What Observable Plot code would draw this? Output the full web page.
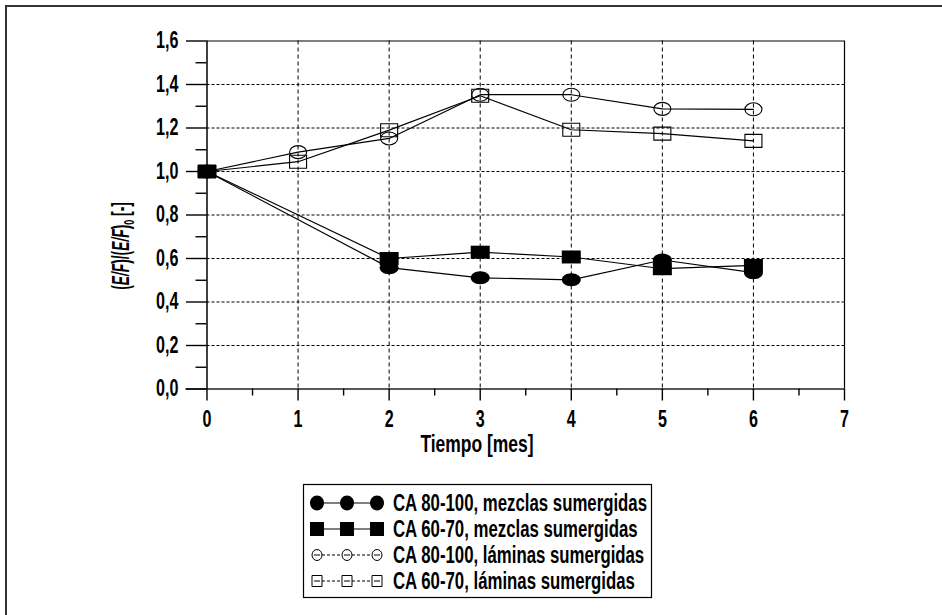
<!DOCTYPE html>
<html>
<head>
<meta charset="utf-8">
<script src="https://cdn.jsdelivr.net/npm/d3@7"></script>
<script src="https://cdn.jsdelivr.net/npm/@observablehq/plot@0.6"></script>
<style>
  html, body { margin: 0; padding: 0; background: #fff; }
  #wrap { position: relative; width: 942px; height: 615px; overflow: hidden; }
  #wrap svg { position: absolute; left: 0; top: 0; }
</style>
</head>
<body>
<div id="wrap"></div>
<script>
// ---- data ----
const xMezclas = [0, 2, 3, 4, 5, 6];
const mezclas80 = [1.0, 0.558, 0.511, 0.502, 0.593, 0.535];
const mezclas60 = [1.0, 0.600, 0.629, 0.607, 0.553, 0.568];
const xLaminas = [0, 1, 2, 3, 4, 5, 6];
const laminas80 = [1.0, 1.089, 1.152, 1.353, 1.353, 1.288, 1.286];
const laminas60 = [1.0, 1.045, 1.190, 1.348, 1.192, 1.174, 1.141];
const seriesNames = [
  "CA 80-100, mezclas sumergidas",
  "CA 60-70, mezclas sumergidas",
  "CA 80-100, láminas sumergidas",
  "CA 60-70, láminas sumergidas"
];
const xTicks = [0, 1, 2, 3, 4, 5, 6, 7];
const xMinor = [0.5, 1.5, 2.5, 3.5, 4.5, 5.5, 6.5];
const yTicks = [0, 0.2, 0.4, 0.6, 0.8, 1.0, 1.2, 1.4, 1.6];
const yMinor = [0.1, 0.3, 0.5, 0.7, 0.9, 1.1, 1.3, 1.5];
const xGrid = [1, 2, 3, 4, 5, 6];
const yGrid = [0.2, 0.4, 0.6, 0.8, 1.0, 1.2, 1.4];
const xLabel = "Tiempo [mes]";

const FONT = '"Liberation Sans", Arial, sans-serif';
const FS = 23;        // font size
const FW = "bold";
const SX = 0.7;       // horizontal condensing factor

// ---- marker shapes (flattened, as in the original) ----
function ellipseSym(rx, ry) {
  return { draw(ctx) {
    const k = 0.5523;
    ctx.moveTo(rx, 0);
    ctx.bezierCurveTo(rx, ry * k, rx * k, ry, 0, ry);
    ctx.bezierCurveTo(-rx * k, ry, -rx, ry * k, -rx, 0);
    ctx.bezierCurveTo(-rx, -ry * k, -rx * k, -ry, 0, -ry);
    ctx.bezierCurveTo(rx * k, -ry, rx, -ry * k, rx, 0);
    ctx.closePath();
  }};
}
function rectSym(hw, hh) {
  return { draw(ctx) {
    ctx.moveTo(-hw, -hh); ctx.lineTo(hw, -hh); ctx.lineTo(hw, hh); ctx.lineTo(-hw, hh); ctx.closePath();
  }};
}

const tbl = (xs, ys) => xs.map((x, i) => ({x, y: ys[i]}));
const dM80 = tbl(xMezclas, mezclas80);
const dM60 = tbl(xMezclas, mezclas60);
const dL80 = tbl(xLaminas, laminas80);
const dL60 = tbl(xLaminas, laminas60);

const fmt = d => d.toFixed(1).replace(".", ",");

const chart = Plot.plot({
  width: 942,
  height: 615,
  marginLeft: 206.5,
  marginRight: 98,
  marginTop: 40.5,
  marginBottom: 226.5,
  style: { fontFamily: FONT, fontSize: FS + "px", background: "transparent", color: "#000" },
  x: { domain: [0, 7] },
  y: { domain: [0, 1.6] },
  marks: [
    // grid
    Plot.ruleX(xGrid, { stroke: "#000", strokeWidth: 1, strokeDasharray: "4,3" }),
    Plot.ruleY(yGrid, { stroke: "#000", strokeWidth: 1, strokeDasharray: "3,2" }),
    // frame
    Plot.ruleY([1.6], { stroke: "#000", strokeWidth: 1.2 }),
    Plot.ruleX([7], { stroke: "#000", strokeWidth: 1.2 }),
    Plot.ruleY([0], { stroke: "#222", strokeWidth: 1.5, insetLeft: -21 }),
    Plot.ruleX([0], { stroke: "#000", strokeWidth: 1.5 }),
    // axes
    Plot.axisY({ ticks: yTicks, tickSize: 20.5, tickPadding: 8, tickFormat: fmt, label: null, strokeWidth: 1.4 }),
    Plot.axisY({ ticks: yMinor, tickSize: 11, tickFormat: () => "", label: null, strokeWidth: 1.4 }),
    Plot.axisX({ ticks: xTicks, tickSize: 12, tickPadding: 10, tickFormat: d => String(d), label: null, strokeWidth: 1.4 }),
    Plot.axisX({ ticks: xMinor, tickSize: 7, tickFormat: () => "", label: null, strokeWidth: 1.4 }),
    // open series
    Plot.line(dL80, { x: "x", y: "y", stroke: "#000", strokeWidth: 1.2 }),
    Plot.line(dL60, { x: "x", y: "y", stroke: "#000", strokeWidth: 1.2 }),
    Plot.dot(dL80, { x: "x", y: "y", symbol: ellipseSym(8.5, 6.5), fill: "none", stroke: "#000", strokeWidth: 1.1, r: 6 }),
    Plot.dot(dL60, { x: "x", y: "y", symbol: rectSym(8.5, 6.5), fill: "none", stroke: "#000", strokeWidth: 1.1, r: 6 }),
    // filled series
    Plot.line(dM80, { x: "x", y: "y", stroke: "#000", strokeWidth: 1.2 }),
    Plot.line(dM60, { x: "x", y: "y", stroke: "#000", strokeWidth: 1.2 }),
    Plot.dot(dM80, { x: "x", y: "y", symbol: ellipseSym(9.5, 6.5), fill: "#000", stroke: "none", r: 6 }),
    Plot.dot(dM60, { x: "x", y: "y", symbol: rectSym(9.5, 6.5), fill: "#000", stroke: "none", r: 6 })
  ]
});

const wrap = document.getElementById("wrap");
wrap.appendChild(chart);

const svg = d3.select(chart);

// condense tick labels horizontally (the original uses a condensed face)
svg.selectAll('g[aria-label$="tick label"] text').each(function() {
  const t = d3.select(this);
  const tr = t.attr("transform") || "";
  t.attr("transform", tr + ` scale(${SX},1)`)
    .attr("font-size", FS).attr("font-weight", FW);
});

function addText(parent, x, y, str, anchor, sx) {
  return parent.append("text")
    .attr("transform", `translate(${x},${y}) scale(${sx || SX},1)`)
    .attr("text-anchor", anchor)
    .attr("font-family", FONT).attr("font-size", FS).attr("font-weight", FW)
    .attr("fill", "#000")
    .text(str);
}

// axis titles
addText(svg, 477, 452, xLabel, "middle", 0.76);

const yl = svg.append("text")
  .attr("transform", `translate(129,246) rotate(-90) scale(0.6,1)`)
  .attr("text-anchor", "middle")
  .attr("font-family", FONT).attr("font-size", FS).attr("font-weight", FW)
  .attr("fill", "#000");
yl.append("tspan").text("(");
yl.append("tspan").attr("font-style", "italic").text("E/F");
yl.append("tspan").text(")/(");
yl.append("tspan").attr("font-style", "italic").text("E/F");
yl.append("tspan").text(")");
yl.append("tspan").attr("font-size", 15).attr("dy", 5).text("0");
yl.append("tspan").attr("dy", -5).text(" [-]");

// page frame (top and left edges only, as in the reference)
svg.append("line").attr("x1", 5).attr("x2", 942).attr("y1", 6).attr("y2", 6)
  .attr("stroke", "#333").attr("stroke-width", 2);
svg.append("line").attr("x1", 6).attr("x2", 6).attr("y1", 5).attr("y2", 615)
  .attr("stroke", "#333").attr("stroke-width", 2);

// legend
const lg = svg.append("g");
lg.append("rect").attr("x", 303.5).attr("y", 484.5).attr("width", 348).attr("height", 113)
  .attr("fill", "#fff").attr("stroke", "#000").attr("stroke-width", 1.2);
const rowY = [503, 529, 555, 581];
const sx = [317, 347, 377];
const legendSyms = [
  { sym: ellipseSym(7, 7.5), fill: "#000", stroke: "none", dash: null },
  { sym: rectSym(7, 7), fill: "#000", stroke: "none", dash: null },
  { sym: ellipseSym(5, 5.5), fill: "#fff", stroke: "#000", dash: "3,2" },
  { sym: rectSym(5, 5.5), fill: "#fff", stroke: "#000", dash: "3,2" }
];
seriesNames.forEach((name, i) => {
  const y = rowY[i], s = legendSyms[i];
  lg.append("line").attr("x1", sx[0]).attr("x2", sx[2]).attr("y1", y).attr("y2", y)
    .attr("stroke", "#000").attr("stroke-width", 1.2)
    .attr("stroke-dasharray", s.dash);
  sx.forEach(x => {
    lg.append("path").attr("transform", `translate(${x},${y})`)
      .attr("d", d3.symbol(s.sym)())
      .attr("fill", s.fill).attr("stroke", s.stroke).attr("stroke-width", 1);
    if (s.stroke !== "none") {
      lg.append("line").attr("x1", x - 3).attr("x2", x + 3).attr("y1", y).attr("y2", y)
        .attr("stroke", "#000").attr("stroke-width", 1);
    }
  });
  addText(lg, 393, y + 8, name, "start", 0.73);
});
</script>
</body>
</html>
